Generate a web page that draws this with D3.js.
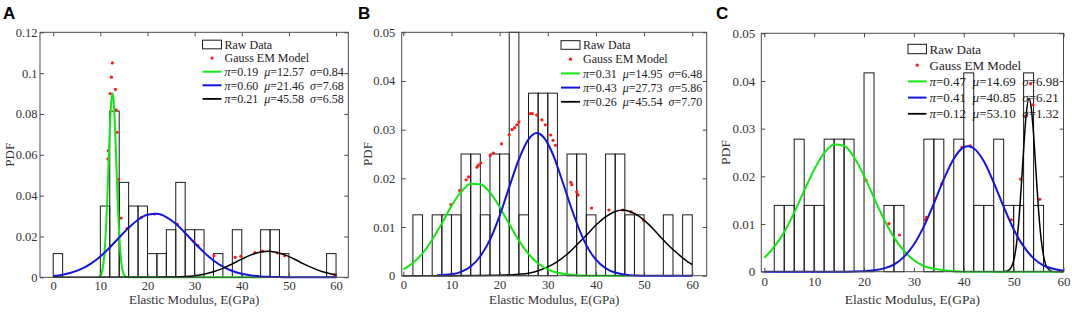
<!DOCTYPE html>
<html>
<head>
<meta charset="utf-8">
<script src="https://cdn.jsdelivr.net/npm/d3@7"></script>
<style>
body { margin: 0; background: #fff; }
svg text { font-family: "Liberation Serif", "Times New Roman", serif; }
</style>
</head>
<body>
<svg id="chart" width="1072" height="312"></svg>
<script>
// ---- data ----
const xTicks = [0, 10, 20, 30, 40, 50, 60];
const yTicksA = [0, 0.02, 0.04, 0.06, 0.08, 0.1, 0.12];
const yTickLabelsA = ["0", "0.02", "0.04", "0.06", "0.08", "0.1", "0.12"];
const yTicksBC = [0, 0.01, 0.02, 0.03, 0.04, 0.05];
const yTickLabelsBC = ["0", "0.01", "0.02", "0.03", "0.04", "0.05"];
const binWidth = 2;

// histogram bars (bin start, PDF height)
const histStartA = [0, 10, 12, 14, 16, 18, 20, 22, 24, 26, 28, 30, 34, 38, 44, 46, 48, 58];
const histPdfA = [0.0116, 0.0349, 0.0814, 0.0465, 0.0349, 0.0349, 0.0116, 0.0116, 0.0233, 0.0465, 0.0233, 0.0233, 0.0116, 0.0233, 0.0233, 0.0233, 0.0116, 0.0116];
const histStartB = [2, 6, 8, 10, 12, 14, 16, 18, 20, 22, 24, 26, 28, 30, 34, 36, 38, 42, 44, 46, 48, 54, 58];
const histPdfB = [0.0125, 0.0125, 0.0125, 0.0125, 0.025, 0.025, 0.0125, 0.025, 0.025, 0.05, 0.0125, 0.0375, 0.0375, 0.0375, 0.025, 0.025, 0.0125, 0.025, 0.025, 0.0125, 0.0125, 0.0125, 0.0125];
const histStartC = [2, 4, 6, 8, 10, 12, 14, 16, 20, 24, 26, 32, 34, 38, 40, 42, 44, 46, 48, 50, 52, 54];
const histPdfC = [0.0139, 0.0139, 0.0278, 0.0139, 0.0139, 0.0278, 0.0278, 0.0278, 0.0417, 0.0139, 0.0139, 0.0278, 0.0278, 0.0278, 0.0417, 0.0139, 0.0139, 0.0278, 0.0139, 0.0139, 0.0417, 0.0139];

// Gauss EM model points (red dots)
const dotsXA = [11.6, 11.7, 12.1, 12.35, 12.55, 13.2, 13.35, 13.55, 13.9, 14.4, 15.7, 18.7, 21.5, 26.3, 29.8, 30.7, 34.1, 38.6, 39.8, 42.8, 44.4, 47.5, 49.1, 59.6];
const dotsYA = [0.058, 0.062, 0.090, 0.098, 0.105, 0.092, 0.082, 0.071, 0.048, 0.029, 0.024, 0.0294, 0.031, 0.026, 0.0176, 0.0155, 0.0106, 0.0098, 0.0103, 0.0121, 0.0128, 0.012, 0.0106, 0.0012];
const dotsXB = [9.9, 11.7, 13.05, 13.55, 15.3, 15.6, 16.1, 18.05, 18.7, 20.4, 22.0, 22.6, 23.1, 23.6, 24.0, 26.4, 26.8, 27.7, 28.8, 29.5, 30.6, 31.1, 31.6, 34.8, 35.0, 36.0, 36.3, 39.1, 42.7, 45.6, 47.3, 49.9];
const dotsYB = [0.0146, 0.0175, 0.0197, 0.0203, 0.0223, 0.0227, 0.0232, 0.0247, 0.0252, 0.0271, 0.029, 0.030, 0.0304, 0.031, 0.0316, 0.0333, 0.0333, 0.033, 0.032, 0.031, 0.0289, 0.0278, 0.0268, 0.0192, 0.0187, 0.0172, 0.0166, 0.0139, 0.0135, 0.0135, 0.0131, 0.0114];
const dotsXC = [20.4, 25.0, 27.1, 32.3, 32.5, 34.15, 35.6, 39.65, 41.3, 49.55, 51.4, 52.4, 53.4, 53.9, 55.25];
const dotsYC = [0.0192, 0.0101, 0.0077, 0.0109, 0.0114, 0.0154, 0.0184, 0.0261, 0.0264, 0.0109, 0.0194, 0.0326, 0.0394, 0.035, 0.0152];

// component curves
const greenXA = [9.5, 10, 10.5, 11, 11.25, 11.5, 11.75, 12, 12.25, 12.57, 12.8, 13, 13.25, 13.5, 13.75, 14, 14.5, 15, 15.5, 16, 45];
const greenYA = [0.0001, 0.0008, 0.0043, 0.0157, 0.0262, 0.0401, 0.056, 0.0717, 0.0839, 0.0902, 0.0869, 0.0791, 0.065, 0.0489, 0.0336, 0.0212, 0.0064, 0.0014, 0.0002, 0, 0];
const blueXA = [0, 2, 4, 6, 8, 10, 12, 14, 16, 18, 20, 22, 24, 26, 28, 30, 32, 34, 36, 38, 40, 42, 44, 46, 48, 50, 60];
const blueYA = [0.0006, 0.0013, 0.0024, 0.0041, 0.0067, 0.0102, 0.0146, 0.0195, 0.0242, 0.0282, 0.0306, 0.0311, 0.0295, 0.0262, 0.0217, 0.0168, 0.0122, 0.0082, 0.0052, 0.0031, 0.0017, 0.0009, 0.0004, 0.0002, 0.0001, 0, 0];
const blackXA = [0, 20, 24, 26, 28, 30, 32, 34, 36, 38, 40, 42, 44, 45.6, 47, 49, 51, 53, 55, 57, 59, 60];
const blackYA = [0, 0, 0.0001, 0.0002, 0.0004, 0.0008, 0.0015, 0.0027, 0.0044, 0.0066, 0.0089, 0.011, 0.0124, 0.0127, 0.0124, 0.0111, 0.0091, 0.0067, 0.0046, 0.0028, 0.0016, 0.0012];

const greenXB = [0, 2, 4, 6, 8, 10, 12, 14, 16, 18, 20, 22, 24, 26, 28, 30, 32, 34, 36, 38, 47];
const greenYB = [0.0013, 0.0026, 0.0046, 0.0074, 0.0107, 0.0143, 0.0172, 0.0189, 0.0188, 0.0171, 0.0141, 0.0106, 0.0072, 0.0045, 0.0025, 0.0013, 0.0006, 0.0003, 0.0001, 0, 0];
const blueXB = [7, 10, 12, 14, 16, 18, 20, 22, 24, 26, 27.7, 29, 31, 33, 35, 37, 39, 41, 43, 45, 47, 50, 60];
const blueYB = [0.0001, 0.0003, 0.0008, 0.0019, 0.004, 0.0074, 0.0123, 0.0182, 0.0239, 0.028, 0.0293, 0.0286, 0.0251, 0.0195, 0.0136, 0.0084, 0.0046, 0.0023, 0.001, 0.0004, 0.0001, 0, 0];
const blackXB = [0, 10, 20, 24, 26, 28, 30, 32, 34, 36, 38, 40, 42, 44, 45.5, 47, 49, 51, 53, 55, 57, 59, 60];
const blackYB = [0, 0, 0.0001, 0.0003, 0.0005, 0.001, 0.0018, 0.0029, 0.0044, 0.0063, 0.0083, 0.0104, 0.0121, 0.0132, 0.0135, 0.0132, 0.0122, 0.0105, 0.0084, 0.0063, 0.0045, 0.0029, 0.0023];

const greenXC = [0, 2, 4, 6, 8, 10, 12, 14, 16, 18, 20, 22, 24, 26, 28, 30, 32, 34, 36, 38, 40, 60];
const greenYC = [0.0029, 0.0052, 0.0083, 0.0124, 0.017, 0.0214, 0.0249, 0.0267, 0.0264, 0.024, 0.0201, 0.0155, 0.011, 0.0072, 0.0044, 0.0024, 0.0012, 0.0006, 0.0003, 0.0001, 0, 0];
const blueXC = [0, 16, 20, 22, 24, 26, 28, 30, 32, 34, 36, 38, 40, 40.85, 42, 44, 46, 48, 50, 52, 54, 56, 58, 60];
const blueYC = [0, 0, 0.0001, 0.0003, 0.0007, 0.0015, 0.0031, 0.0057, 0.0095, 0.0143, 0.0194, 0.0237, 0.0261, 0.0263, 0.0259, 0.0232, 0.0187, 0.0136, 0.0089, 0.0053, 0.0028, 0.0013, 0.0006, 0.0002];
const blackXC = [46, 48, 49, 49.5, 50, 50.5, 51, 51.5, 52, 52.5, 53.1, 53.5, 54, 54.5, 55, 55.5, 56, 56.5, 57, 58, 59];
const blackYC = [0, 0, 0.0003, 0.0009, 0.0023, 0.0052, 0.0102, 0.0174, 0.0256, 0.0327, 0.0363, 0.0346, 0.0288, 0.0207, 0.0129, 0.007, 0.0033, 0.0013, 0.0005, 0, 0];

// legend parameters (green, blue, black)
const piA = ["0.19", "0.60", "0.21"], muA = ["12.57", "21.46", "45.58"], sigmaA = ["0.84", "7.68", "6.58"];
const piB = ["0.31", "0.43", "0.26"], muB = ["14.95", "27.73", "45.54"], sigmaB = ["6.48", "5.86", "7.70"];
const piC = ["0.47", "0.41", "0.12"], muC = ["14.69", "40.85", "53.10"], sigmaC = ["6.98", "6.21", "1.32"];

const colGreen = "#14e614", colBlue = "#1414e0", colBlack = "#000";
const serif = "Liberation Serif, Times New Roman, serif";

const svg = d3.select("#chart");

function bins(starts, pdfs) { return starts.map((s, i) => ({start: s, pdf: pdfs[i]})); }
function curve(xs, ys, color, w) { return {pts: d3.zip(xs, ys), color: color, w: w}; }

const panels = [
  {letter: "A", lx: 3, left: 40, right: 348.3, top: 32.3, bottom: 277.3, xDomain: [-2.8, 62.6], yMax: 0.12,
   yTicks: yTicksA, yLabels: yTickLabelsA, yPad: 2.5, xPad: 3.5, pdfX: 9, font: 12.5, labelY: 304,
   bins: bins(histStartA, histPdfA), dots: d3.zip(dotsXA, dotsYA),
   curves: [curve(greenXA, greenYA, colGreen, 2), curve(blueXA, blueYA, colBlue, 2), curve(blackXA, blackYA, colBlack, 1.5)],
   legend: {x: 202.5, w: 19, y0: 44.5, dy: 13.6, font: 12, pi: piA, mu: muA, sigma: sigmaA}},
  {letter: "B", lx: 358, left: 401.7, right: 706.7, top: 32.3, bottom: 275.7, xDomain: [-0.33, 63], yMax: 0.05,
   yTicks: yTicksBC, yLabels: yTickLabelsBC, yPad: 6.5, xPad: 4, pdfX: 367, font: 12.5, labelY: 304,
   bins: bins(histStartB, histPdfB), dots: d3.zip(dotsXB, dotsYB),
   curves: [curve(blackXB, blackYB, colBlack, 1.5), curve(greenXB, greenYB, colGreen, 2), curve(blueXB, blueYB, colBlue, 2)],
   legend: {x: 561, w: 19, y0: 45, dy: 14.2, font: 12, pi: piB, mu: muB, sigma: sigmaB}},
  {letter: "C", lx: 716, left: 761.3, right: 1063.5, top: 33.3, bottom: 271.7, xDomain: [-0.6, 60], yMax: 0.05,
   yTicks: yTicksBC, yLabels: yTickLabelsBC, yPad: 6, xPad: 5, pdfX: 725.5, font: 13, labelY: 304,
   bins: bins(histStartC, histPdfC), dots: d3.zip(dotsXC, dotsYC),
   curves: [curve(blackXC, blackYC, colBlack, 1.5), curve(greenXC, greenYC, colGreen, 2), curve(blueXC, blueYC, colBlue, 2)],
   legend: {x: 908, w: 18.5, y0: 49, dy: 16.2, font: 13, pi: piC, mu: muC, sigma: sigmaC}}
];

panels.forEach(p => {
  const x = d3.scaleLinear().domain(p.xDomain).range([p.left, p.right]);
  const y = d3.scaleLinear().domain([0, p.yMax]).range([p.bottom, p.top]);
  const g = svg.append("g");

  // histogram
  g.append("g").selectAll("rect").data(p.bins).join("rect")
    .attr("x", d => x(d.start))
    .attr("width", d => x(d.start + binWidth) - x(d.start))
    .attr("y", d => y(d.pdf))
    .attr("height", d => y(0) - y(d.pdf))
    .attr("fill", "none")
    .attr("stroke", "#1a1a1a")
    .attr("stroke-width", 1);

  // dots under the curves
  g.append("g").selectAll("circle").data(p.dots).join("circle")
    .attr("cx", d => x(d[0])).attr("cy", d => y(d[1])).attr("r", 1.6)
    .attr("fill", "#ff1a1a");

  const line = d3.line().x(d => x(d[0])).y(d => y(d[1])).curve(d3.curveMonotoneX);
  p.curves.forEach(c => {
    g.append("path").datum(c.pts).attr("d", line)
      .attr("fill", "none").attr("stroke", c.color).attr("stroke-width", c.w);
  });

  // axes: MATLAB style, ticks inside on all four sides
  const axisColor = "#4a4a4a";
  const styleAxis = sel => {
    sel.attr("color", axisColor).attr("font-family", serif).attr("font-size", p.font);
    sel.select(".domain").remove();
    sel.selectAll("text").attr("fill", "#333");
  };
  g.append("g").attr("transform", `translate(0,${p.bottom})`)
    .call(d3.axisBottom(x).tickValues(xTicks).tickSizeInner(-4).tickSizeOuter(0).tickPadding(p.xPad))
    .call(styleAxis);
  g.append("g").attr("transform", `translate(0,${p.top})`)
    .call(d3.axisTop(x).tickValues(xTicks).tickSizeInner(-4).tickSizeOuter(0).tickFormat(""))
    .call(styleAxis);
  g.append("g").attr("transform", `translate(${p.left},0)`)
    .call(d3.axisLeft(y).tickValues(p.yTicks).tickFormat((d, i) => p.yLabels[i])
      .tickSizeInner(-4).tickSizeOuter(0).tickPadding(p.yPad))
    .call(styleAxis);
  g.append("g").attr("transform", `translate(${p.right},0)`)
    .call(d3.axisRight(y).tickValues(p.yTicks).tickFormat("").tickSizeInner(-4).tickSizeOuter(0))
    .call(styleAxis);

  g.append("rect")
    .attr("x", p.left).attr("y", p.top)
    .attr("width", p.right - p.left).attr("height", p.bottom - p.top)
    .attr("fill", "none").attr("stroke", axisColor).attr("stroke-width", 1);

  // axis titles
  g.append("text")
    .attr("x", (p.left + p.right) / 2).attr("y", p.labelY)
    .attr("text-anchor", "middle").attr("font-family", serif)
    .attr("font-size", p.font + 0.5).attr("fill", "#333")
    .text("Elastic Modulus, E(GPa)");
  g.append("text")
    .attr("transform", `translate(${p.pdfX},${(p.top + p.bottom) / 2}) rotate(-90)`)
    .attr("text-anchor", "middle").attr("dy", "0.35em").attr("font-family", serif)
    .attr("font-size", p.font + 0.5).attr("fill", "#333")
    .text("PDF");

  // panel letter
  svg.append("text")
    .attr("x", p.lx).attr("y", 18.5)
    .style("font-family", "Liberation Sans, Arial, sans-serif")
    .attr("font-weight", "bold").attr("font-size", 17).attr("fill", "#000")
    .text(p.letter);

  // legend (no background: bars show through)
  const L = p.legend;
  const lg = g.append("g").attr("font-size", L.font).attr("font-family", serif).attr("fill", "#222");
  const rowY = i => L.y0 + i * L.dy;
  const tx = L.x + L.w + 3;
  lg.append("rect").attr("x", L.x).attr("y", rowY(0) - L.font * 0.36)
    .attr("width", L.w).attr("height", L.font * 0.72)
    .attr("fill", "none").attr("stroke", "#1a1a1a").attr("stroke-width", 1);
  lg.append("text").attr("x", tx).attr("y", rowY(0)).attr("dy", "0.35em").text("Raw Data");
  lg.append("circle").attr("cx", L.x + L.w / 2).attr("cy", rowY(1)).attr("r", 1.6).attr("fill", "#ff1a1a");
  lg.append("text").attr("x", tx).attr("y", rowY(1)).attr("dy", "0.35em").text("Gauss EM Model");
  [colGreen, colBlue, colBlack].forEach((c, k) => {
    const yy = rowY(k + 2);
    lg.append("line").attr("x1", L.x).attr("x2", L.x + L.w).attr("y1", yy).attr("y2", yy)
      .attr("stroke", c).attr("stroke-width", k === 2 ? 1.8 : 2);
    const t = lg.append("text").attr("x", tx).attr("y", yy).attr("dy", "0.35em")
      .style("white-space", "pre");
    t.append("tspan").attr("font-style", "italic").text("π");
    t.append("tspan").text("=" + L.pi[k] + "  ");
    t.append("tspan").attr("font-style", "italic").text("μ");
    t.append("tspan").text("=" + L.mu[k] + "  ");
    t.append("tspan").attr("font-style", "italic").text("σ");
    t.append("tspan").text("=" + L.sigma[k]);
  });
});
</script>
</body>
</html>
